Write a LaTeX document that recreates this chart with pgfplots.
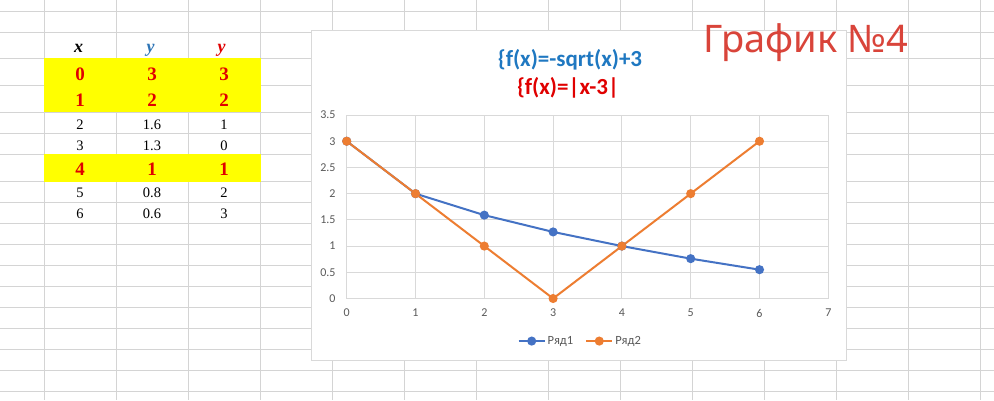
\documentclass[border=0pt]{standalone}
\usepackage{pgfplots}
\pgfplotsset{compat=1.18}
\usepackage{fontspec}
\setmainfont{Carlito}
\newfontfamily\tabfont{Liberation Serif}
\newfontfamily\bigfont{Noto Sans}

\definecolor{sheetgrid}{HTML}{D4D4D4}
\definecolor{cellyellow}{HTML}{FFFF00}
\definecolor{cellred}{HTML}{E00000}
\definecolor{cellblue}{HTML}{2E75B6}
\definecolor{titleblue}{HTML}{1F78C1}
\definecolor{titlered}{HTML}{E00000}
\definecolor{bigred}{HTML}{D9443A}
\definecolor{seriesA}{HTML}{4472C4}
\definecolor{seriesB}{HTML}{ED7D31}
\definecolor{ticktext}{HTML}{595959}
\definecolor{plotgrid}{HTML}{D9D9D9}

\begin{document}
\begin{tikzpicture}

  % spreadsheet background, 1pt = 1px, y downwards
  \begin{scope}[x=1pt,y=-1pt]
    \useasboundingbox (0,0) rectangle (994,400);
    \fill[white] (0,0) rectangle (994,400);
    \foreach \r in {11,32.3,58.3,85.3,112.3,133.3,154.3,181.5,202.3,223,244,265,286,307,328,349,370,391}
      \draw[sheetgrid, line width=1pt] (0,\r) -- (994,\r);
    \foreach \c in {44.5,116.5,188.5,260.5,332.5,404.5,476.5,548.5,620.5,692.5,764.5,836.5,908.5,980.5}
      \draw[sheetgrid, line width=1pt] (\c,0) -- (\c,400);

    % highlighted rows
    \fill[cellyellow] (44,58.3) rectangle (261,112.3);
    \fill[cellyellow] (44,154.3) rectangle (261,181.5);

    % table
    \begin{scope}[every node/.style={anchor=base, inner sep=0pt}]
      \node[font=\tabfont\fontsize{18}{18}\selectfont\bfseries\itshape] at (78.5,52.3) {x};
      \node[font=\tabfont\fontsize{18}{18}\selectfont\bfseries\itshape, text=cellblue] at (150.5,52.3) {y};
      \node[font=\tabfont\fontsize{18}{18}\selectfont\bfseries\itshape, text=cellred] at (221.5,52.3) {y};
      \foreach \b/\a/\s/\t in {80/0/3/3, 106/1/2/2, 175.7/4/1/1} {
        \node[font=\tabfont\fontsize{19}{19}\selectfont\bfseries, text=cellred] at (80,\b) {\a};
        \node[font=\tabfont\fontsize{19}{19}\selectfont\bfseries, text=cellred] at (152,\b) {\s};
        \node[font=\tabfont\fontsize{19}{19}\selectfont\bfseries, text=cellred] at (224,\b) {\t};
      }
      \foreach \b/\a/\s/\t in {129.3/2/1.6/1, 150.3/3/1.3/0, 197.7/5/0.8/2, 218.7/6/0.6/3} {
        \node[font=\tabfont\fontsize{14.5}{14.5}\selectfont] at (80,\b) {\a};
        \node[font=\tabfont\fontsize{14.5}{14.5}\selectfont] at (152,\b) {\s};
        \node[font=\tabfont\fontsize{14.5}{14.5}\selectfont] at (224,\b) {\t};
      }
    \end{scope}

    % chart area
    \draw[plotgrid, fill=white, line width=1pt] (311.7,30) rectangle (846,360);
    \node[font=\fontsize{23}{23}\selectfont\bfseries, text=titleblue] at (570,60) {\{f(x)=-sqrt(x)+3};
    \node[font=\fontsize{23}{23}\selectfont\bfseries, text=titlered] at (568,88.3) {\{f(x)=|x-3|};

    % sheet heading
    \node[font=\bigfont\fontsize{38}{38}\selectfont, text=bigred, anchor=base west, inner sep=0pt] at (703,52) {График №4};
  \end{scope}

  \begin{axis}[
    at={(346.7pt,-298.5pt)},
    anchor=south west,
    scale only axis,
    width=481.6pt,
    height=183.5pt,
    xmin=0, xmax=7,
    ymin=0, ymax=3.5,
    xtick={0,1,...,7},
    ytick={0,0.5,...,3.5},
    axis line style={draw=none},
    major tick length=0pt,
    grid=major,
    major grid style={draw=plotgrid, line width=1pt},
    /pgf/number format/assume math mode=true,
    tick label style={font=\fontsize{12}{12}\selectfont, text=ticktext, inner sep=0pt},
    xticklabel style={anchor=north, yshift=-10.5pt},
    yticklabel style={anchor=east, xshift=-11pt},
    legend columns=2,
    legend style={at={(0.485,-0.232)}, anchor=center, draw=none, fill=none,
      font=\fontsize{12.5}{12.5}\selectfont, text=ticktext,
      /tikz/every even column/.append style={column sep=10pt},
      inner sep=0pt},
    legend cell align=left,
    legend image code/.code={
      \draw[mark repeat=2, mark phase=2, #1] plot coordinates {(0pt,0pt) (13pt,0pt) (26pt,0pt)};
    },
  ]

  \addplot[seriesA, line width=2pt, mark=*, mark size=3.5pt, mark options={solid, fill=seriesA}]
    coordinates {(0,3) (1,2) (2,1.59) (3,1.27) (4,1) (5,0.76) (6,0.55)};
  \addlegendentry{Ряд1}

  \addplot[seriesB, line width=2pt, mark=*, mark size=3.5pt, mark options={solid, fill=seriesB}]
    coordinates {(0,3) (1,2) (2,1) (3,0) (4,1) (5,2) (6,3)};
  \addlegendentry{Ряд2}

  \end{axis}

\end{tikzpicture}
\end{document}
